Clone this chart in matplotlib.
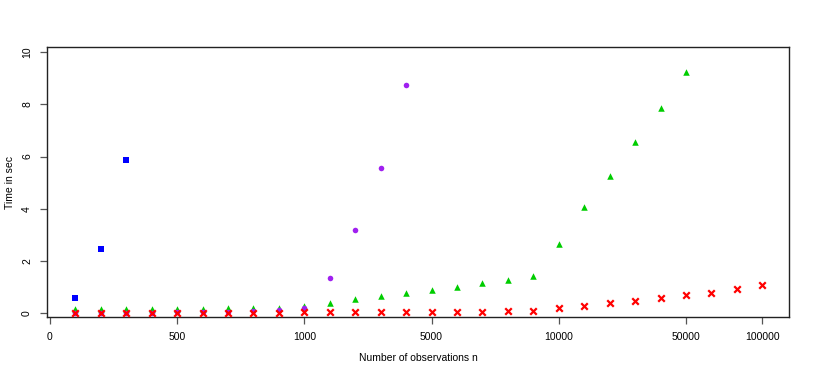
import numpy as np
import matplotlib
matplotlib.use("Agg")
import matplotlib.pyplot as plt

plt.rcParams['font.family'] = ['Liberation Sans', 'DejaVu Sans']

# positions on the x axis are just the run index (1..28)
tick_pos = [0, 5, 10, 15, 20, 25, 28]
tick_labels = ["0", "500", "1000", "5000", "10000", "50000", "100000"]

# blue squares (first 3 runs)
blue_x = [1, 2, 3]
blue_y = [0.57, 2.45, 5.85]

# purple circles (runs 1..14)
purple_x = list(range(1, 15))
purple_y = [0.03, 0.03, 0.03, 0.03, 0.04, 0.05, 0.07, 0.10, 0.14, 0.22,
            1.34, 3.19, 5.57, 8.74]

# green triangles (runs 1..25)
green_x = list(range(1, 26))
green_y = [0.17, 0.17, 0.17, 0.17, 0.18, 0.18, 0.19, 0.20, 0.22, 0.28,
           0.39, 0.55, 0.66, 0.77, 0.89, 1.02, 1.15, 1.29, 1.42,
           2.67, 4.05, 5.27, 6.56, 7.87, 9.23]

# red crosses (runs 1..28)
red_x = list(range(1, 29))
red_y = [0.01, 0.01, 0.01, 0.01, 0.01, 0.01, 0.01, 0.01, 0.02, 0.04,
         0.04, 0.05, 0.05, 0.06, 0.06, 0.07, 0.07, 0.09, 0.10,
         0.19, 0.29, 0.38, 0.48, 0.59, 0.69, 0.78, 0.92, 1.07]

fig = plt.figure(figsize=(8.14, 3.78), dpi=100)
ax = fig.add_axes([47.3 / 814, 1 - 317 / 378, (789 - 47.3) / 814, (317 - 47.3) / 378])

ax.scatter(green_x, green_y, marker='^', s=22, color='#00cd00', linewidths=0, zorder=2)
ax.scatter(purple_x, purple_y, marker='o', s=16, color='#a020f0', linewidths=0, zorder=3)
ax.scatter(red_x, red_y, marker='x', s=22, color='#ff0000', linewidths=1.6, zorder=4)
ax.scatter(blue_x, blue_y, marker='s', s=20, color='#0000ff', linewidths=0, zorder=5)

ax.set_xlim(-0.1, 29.05)
ax.set_ylim(-0.14, 10.18)

ax.set_xticks(tick_pos)
ax.set_xticklabels(tick_labels)
ax.set_yticks([0, 2, 4, 6, 8, 10])
ax.set_yticklabels(["0", "2", "4", "6", "8", "10"], rotation=90, va='center')

for s in ax.spines.values():
    s.set_color('#222222')
    s.set_linewidth(1.0)
ax.tick_params(direction='out', length=5, width=0.9, color='#555555', labelsize=7.5, pad=6)

ax.set_xlabel("Number of observations n", fontsize=7.5, labelpad=8)
ax.set_ylabel("Time in sec", fontsize=7.5)
ax.yaxis.set_label_coords((15 - 47.3) / 741.7, 0.5)

fig.savefig("out.png", dpi=100)
